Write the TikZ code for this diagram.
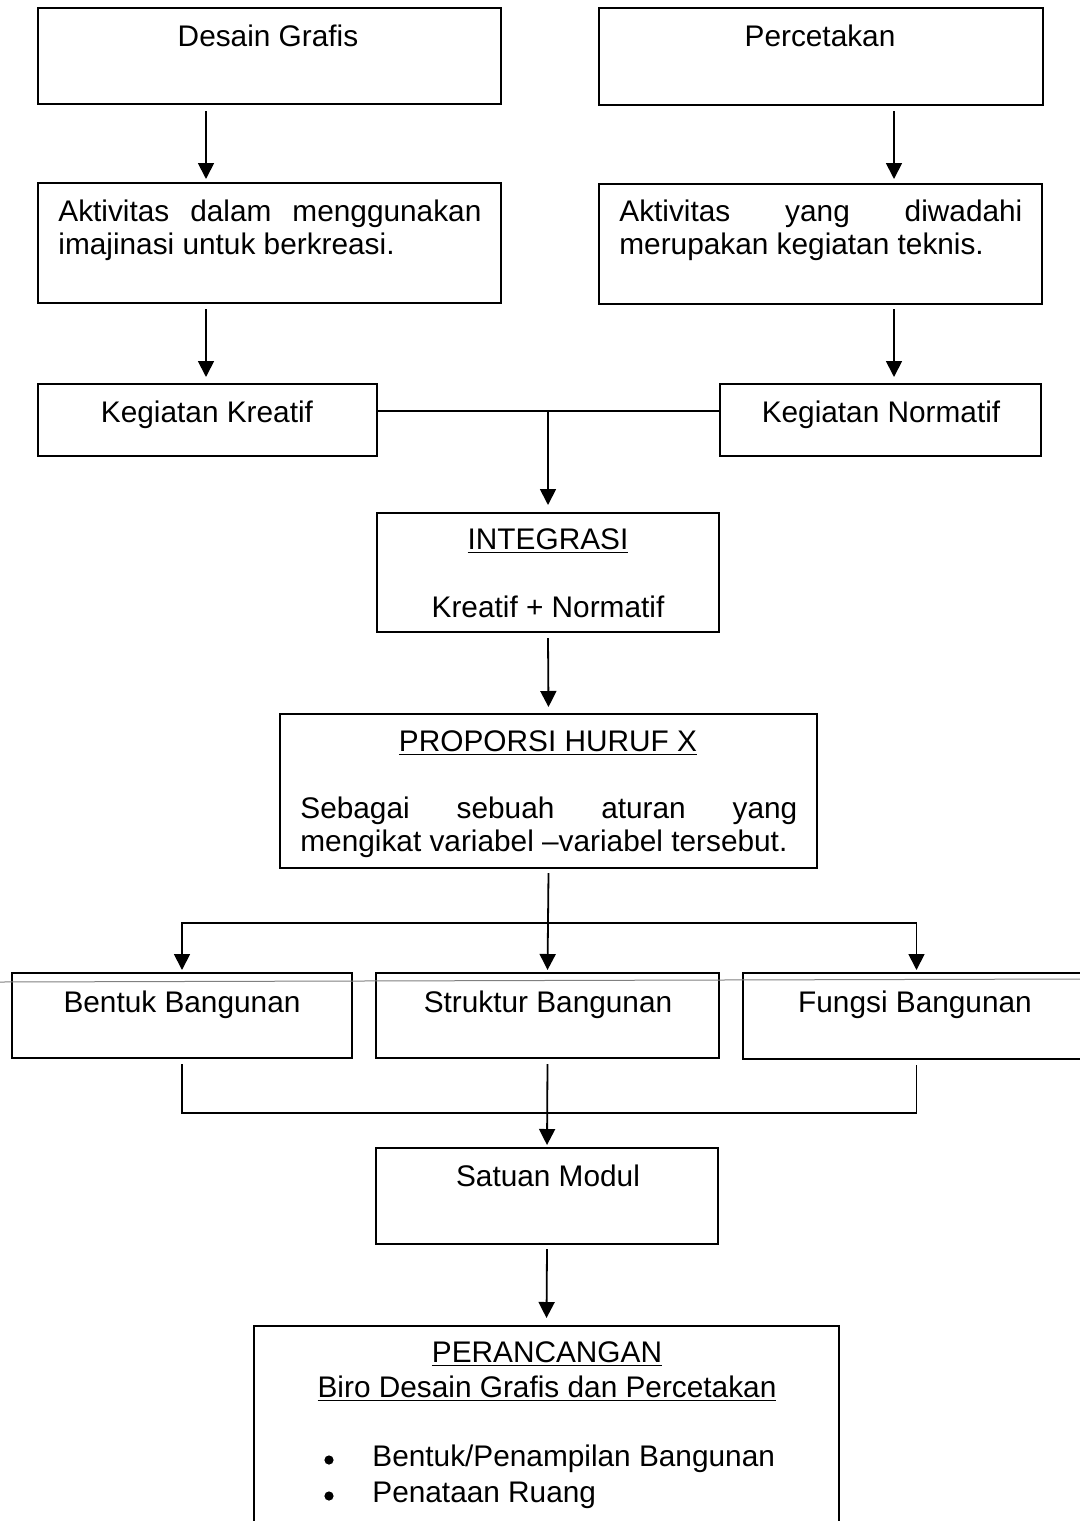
\documentclass[tikz,border=0pt]{standalone}
\usepackage{fontspec}
\setmainfont{Liberation Sans}
\usetikzlibrary{arrows.meta,fit,calc}
\newcommand\fsz{\fontsize{14.9}{16.5}\selectfont\hyphenpenalty=10000 \exhyphenpenalty=10000 }
\tikzset{
 box/.style={draw, line width=1pt, inner sep=0pt},
 txt/.style={inner sep=0pt, font=\fsz, anchor=base},
 para/.style={inner sep=0pt, font=\fsz, align=justify, anchor=north west},
 bul/.style={circle, fill, inner sep=0pt, minimum size=4.6pt},
 conn/.style={line width=0.9pt},
 arr/.style={conn, -{Triangle[length=8pt,width=8pt]}, shorten >=1pt},
}
\begin{document}
\begin{tikzpicture}[x=0.5pt,y=-0.5pt]
\useasboundingbox (0,0) rectangle (1080,1521);
\clip (0,0) rectangle (1080,1521);
% boxes
\node[box, fit={(38,8)(501,104)}] (dg) {};
\node[box, fit={(599,8)(1043,105)}] (pc) {};
\node[box, fit={(38,183)(501,303)}] (akl) {};
\node[box, fit={(599,184)(1042,304)}] (akr) {};
\node[box, fit={(38,384)(377,456)}] (kk) {};
\node[box, fit={(720,384)(1041,456)}] (kn) {};
\node[box, fit={(377,513)(719,632)}] (ig) {};
\node[box, fit={(280,714)(817,868)}] (pp) {};
\node[box, fit={(12,973)(352,1058)}] (bt) {};
\node[box, fit={(376,973)(719,1058)}] (sb) {};
\node[box, fit={(743,973)(1090,1059)}] (fb) {};
\node[box, fit={(376,1148)(718,1244)}] (sm) {};
\node[box, fit={(254,1326)(839,1540)}] (pr) {};
% scan artifact line
\coordinate (g1) at (0,982); \coordinate (g2) at (1080,979);
\draw[gray, line width=0.5pt] (g1) -- (g2);
% texts
\node[txt] (dgt) at (268,46) {Desain Grafis};
\node[txt] (pct) at (820,46) {Percetakan};
\node[para, text width=211.5pt] (aklt) at (58,198) {\strut Aktivitas dalam menggunakan\linebreak imajinasi untuk berkreasi.};
\node[para, text width=201.5pt] (akrt) at (619,198) {\strut Aktivitas yang diwadahi\linebreak merupakan kegiatan teknis.};
\node[txt] (kkt) at (207,422) {Kegiatan Kreatif};
\node[txt] (knt) at (881,422) {Kegiatan Normatif};
\node[txt] (igt1) at (548,549) {\underline{INTEGRASI}};
\node[txt] (igt2) at (548,617) {Kreatif + Normatif};
\node[txt] (ppt1) at (548,751) {\underline{PROPORSI HURUF X}};
\node[para, text width=248.5pt] (ppt2) at (300,795) {\strut Sebagai sebuah aturan yang\linebreak mengikat variabel –variabel tersebut.};
\node[txt] (btt) at (182,1012) {Bentuk Bangunan};
\node[txt] (sbt) at (548,1012) {Struktur Bangunan};
\node[txt] (fbt) at (915,1012) {Fungsi Bangunan};
\node[txt] (smt) at (548,1186) {Satuan Modul};
\node[txt] (prt1) at (547,1362) {\underline{PERANCANGAN}};
\node[txt] (prt2) at (547,1397) {\underline{Biro Desain Grafis dan Percetakan}};
\node[bul] (b1) at (329,1460) {};
\node[txt, anchor=base west] (l1) at (372,1466) {Bentuk/Penampilan Bangunan};
\node[bul] (b2) at (329,1496) {};
\node[txt, anchor=base west] (l2) at (372,1502) {Penataan Ruang};
% connectors
\coordinate (lx) at (206,0); \coordinate (rx) at (894,0);
\draw[arr] ($(dg.south -| lx)+(0,6)$) -- ($(akl.north -| lx)+(0,-1)$);
\draw[arr] ($(pc.south -| rx)+(0,5)$) -- ($(akr.north -| rx)+(0,-2)$);
\draw[arr] ($(akl.south -| lx)+(0,5)$) -- ($(kk.north -| lx)+(0,-4)$);
\draw[arr] ($(akr.south -| rx)+(0,4)$) -- ($(kn.north -| rx)+(0,-4)$);
\coordinate (jy) at (0,411);
\draw[conn] (kk.east |- jy) -- (kn.west |- jy);
\draw[arr] (ig.north |- jy) -- ($(ig.north)+(0,-5)$);
\draw[arr] ($(ig.south)+(0,5)$) -- ($(pp.north)+(0,-4)$);
\coordinate (sy) at (0,923);
\draw[arr] ($(pp.south)+(0,4)$) -- (sb.north);
\draw[arr] (sb.north |- sy) -| (bt.north);
\draw[arr] (sb.north |- sy) -| (fb.north);
\coordinate (by) at (0,1113);
\draw[conn] ($(bt.south)+(0,5)$) |- (fb.south |- by) -- ($(fb.south)+(0,5)$);
\draw[arr] ($(sb.south)+(0,5)$) -- (sm.north);
\draw[arr] ($(sm.south)+(0,4)$) -- ($(pr.north)+(0,-5)$);
\end{tikzpicture}
\end{document}
